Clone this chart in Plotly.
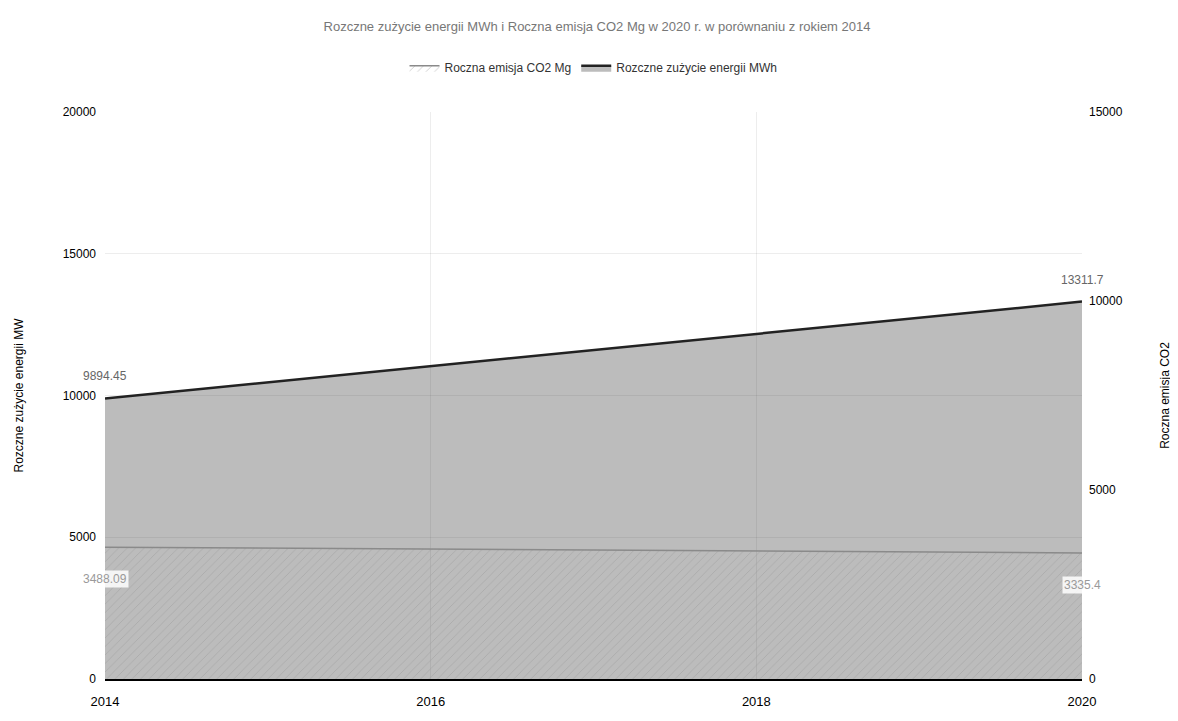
import plotly.graph_objects as go

# data
years = [2014, 2020]
energy_mwh = [9894.45, 13311.7]
co2_mg = [3488.09, 3335.4]
energy_labels = ["9894.45", "13311.7"]
co2_labels = ["3488.09", "3335.4"]

title = "Rozczne zużycie energii MWh i Roczna emisja CO2 Mg w 2020 r. w porównaniu z rokiem 2014"

fig = go.Figure()

# CO2 on the right axis, hatched area
fig.add_trace(go.Scatter(
    x=years, y=co2_mg, yaxis="y2",
    name="Roczna emisja CO2 Mg",
    mode="lines",
    line=dict(color="#8a8a8a", width=1.5),
    fill="tozeroy",
    fillcolor="rgba(0,0,0,0)",
    fillpattern=dict(shape="/", fgcolor="#9a9a9a", size=6, solidity=0.15),
))

# energy on the left axis
fig.add_trace(go.Scatter(
    x=years, y=energy_mwh,
    name="Rozczne zużycie energii MWh",
    mode="lines",
    line=dict(color="#222222", width=2.5),
    fill="tozeroy",
    fillcolor="rgba(70,70,70,0.36)",
))

# value labels
for x, y, t in zip(years, energy_mwh, energy_labels):
    fig.add_annotation(x=x, y=y, text=t, showarrow=False, yshift=22,
                       font=dict(size=12, color="#666666"))
for x, y, t in zip(years, co2_mg, co2_labels):
    fig.add_annotation(x=x, y=y, yref="y2", text=t, showarrow=False, yshift=-32,
                       bgcolor="rgba(255,255,255,0.85)",
                       font=dict(size=12, color="#9a9a9a"))

fig.update_layout(
    width=1178, height=721,
    paper_bgcolor="white", plot_bgcolor="white",
    font=dict(family="Liberation Sans, Arial, sans-serif", size=12, color="#000000"),
    title=dict(text=title, x=0.5, xanchor="center", y=0.974, yanchor="middle",
               font=dict(size=13, color="#777777")),
    margin=dict(l=97, r=104, t=104, b=50),
    showlegend=True,
    legend=dict(orientation="h", x=0.5, xanchor="center", y=1.078, yanchor="middle",
                font=dict(size=12, color="#333333")),
    xaxis=dict(range=[2014, 2020], tickvals=[2014, 2016, 2018, 2020],
               showgrid=True, gridcolor="rgba(0,0,0,0.07)", gridwidth=1,
               showline=True, linecolor="#000000", linewidth=2,
               ticks="", zeroline=False, automargin=False,
               ticklabelstandoff=9, tickfont=dict(size=13)),
    yaxis=dict(range=[0, 20000], dtick=5000,
               title=dict(text="Rozczne zużycie energii MW", font=dict(size=12), standoff=36),
               showgrid=True, gridcolor="rgba(0,0,0,0.07)", zeroline=False,
               ticks="", tickformat="d", automargin=False, ticklabelstandoff=8),
    yaxis2=dict(range=[0, 15000], dtick=5000, overlaying="y", side="right",
                title=dict(text="Roczna emisja CO2", font=dict(size=12), standoff=38),
                showgrid=False, zeroline=False, ticks="", tickformat="d",
                automargin=False, ticklabelstandoff=6),
)

fig.write_html("out.html")
